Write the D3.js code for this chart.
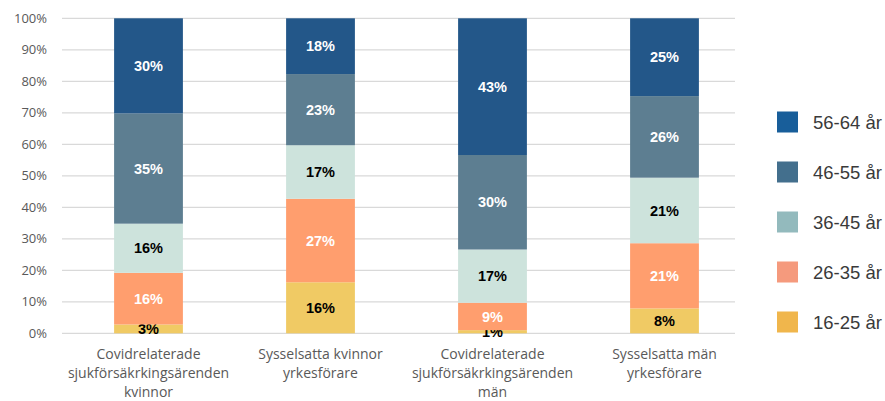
<!DOCTYPE html>
<html lang="sv">
<head>
<meta charset="utf-8">
<title>Åldersfördelning</title>
<script src="https://cdn.jsdelivr.net/npm/d3@7"></script>
<style>
  body { margin: 0; background: #fff; }
  .axis text { font-family: "Open Sans", "Noto Sans", sans-serif; font-size: 13px; fill: #595959; }
  .cat text { font-family: "Open Sans", "Noto Sans", sans-serif; font-size: 14px; fill: #595959; }
  .lbl { font-family: "Liberation Sans", Arial, sans-serif; font-size: 14.5px; font-weight: bold; }
  .legend text { font-family: "Liberation Sans", Arial, sans-serif; font-size: 18.5px; fill: #3a3a3a; }
</style>
</head>
<body>
<script>
// categories (x axis)
var categories = [
  ["Covidrelaterade", "sjukförsäkrkingsärenden", "kvinnor"],
  ["Sysselsatta kvinnor", "yrkesförare"],
  ["Covidrelaterade", "sjukförsäkrkingsärenden", "män"],
  ["Sysselsatta män", "yrkesförare"]
];

// age groups, bottom to top
var groups = ["16-25 år", "26-35 år", "36-45 år", "46-55 år", "56-64 år"];

// share per group (%), one value per category
var age16_25 = [2.8, 16.2, 1.0, 7.9];
var age26_35 = [16.4, 26.5, 8.7, 20.7];
var age36_45 = [15.6, 17.0, 16.9, 20.8];
var age46_55 = [35.0, 22.6, 30.0, 25.9];
var age56_64 = [30.2, 17.7, 43.4, 24.7];

var yTicks = [0, 10, 20, 30, 40, 50, 60, 70, 80, 90, 100];

var barColors = ["#f0ca64", "#ff9e6e", "#cde3dc", "#5d7e91", "#235789"];
var legendColors = ["#f0b64c", "#f59a7d", "#93babd", "#436f8d", "#185e9a"];
var labelColors = ["#000", "#fff", "#000", "#fff", "#fff"];

var w = 885, h = 401;

var svg = d3.select("body").append("svg")
    .attr("width", w)
    .attr("height", h);

// build rows for the stack
var series = [age16_25, age26_35, age36_45, age46_55, age56_64];
var rows = categories.map(function(c, i) {
  var r = { idx: i };
  groups.forEach(function(g, j) { r[g] = series[j][i]; });
  return r;
});

var stack = d3.stack().keys(groups)(rows);

var x = d3.scaleBand()
    .domain(d3.range(categories.length))
    .range([62.5, 750.5])
    .paddingInner(0.6)
    .paddingOuter(0.3);

var y = d3.scaleLinear()
    .domain([0, 100])
    .range([333.3, 18.3]);

// gridlines
svg.append("g")
  .selectAll("line")
  .data(yTicks)
  .enter()
  .append("line")
  .attr("x1", 62)
  .attr("x2", 735)
  .attr("y1", function(d) { return y(d); })
  .attr("y2", function(d) { return y(d); })
  .style("stroke", "#d9d9d9")
  .style("stroke-width", 1.3);

// y axis labels
var yAxis = d3.axisLeft(y)
    .tickValues(yTicks)
    .tickFormat(function(d) { return d + "%"; })
    .tickSize(0)
    .tickPadding(0);

svg.append("g")
  .attr("class", "axis")
  .attr("transform", "translate(47,0)")
  .call(yAxis)
  .call(function(g) { g.select(".domain").remove(); });

// bars
var layer = svg.selectAll(".layer")
  .data(stack)
  .enter()
  .append("g")
  .attr("class", "layer");

layer.selectAll("rect")
  .data(function(d) { return d; })
  .enter()
  .append("rect")
  .attr("x", function(d) { return x(d.data.idx); })
  .attr("width", x.bandwidth())
  .attr("y", function(d) { return y(d[1]); })
  .attr("height", function(d) { return y(d[0]) - y(d[1]); })
  .style("fill", function(d, i, nodes) {
    return barColors[d3.select(nodes[i].parentNode).datum().index];
  });

// value labels
layer.each(function(s) {
  d3.select(this).selectAll("text")
    .data(s)
    .enter()
    .append("text")
    .attr("class", "lbl")
    .attr("x", function(d) { return x(d.data.idx) + x.bandwidth() / 2; })
    .attr("y", function(d) { return (y(d[0]) + y(d[1])) / 2; })
    .attr("dy", "0.36em")
    .attr("text-anchor", "middle")
    .style("fill", labelColors[s.index])
    .text(function(d) { return Math.round(d[1] - d[0]) + "%"; });
});

// category labels
var cat = svg.append("g").attr("class", "cat");
cat.selectAll("text")
  .data(categories)
  .enter()
  .append("text")
  .attr("text-anchor", "middle")
  .attr("x", function(d, i) { return x(i) + x.bandwidth() / 2; })
  .attr("y", 359)
  .each(function(lines) {
    var t = d3.select(this);
    lines.forEach(function(l, k) {
      t.append("tspan")
        .attr("x", t.attr("x"))
        .attr("dy", k === 0 ? 0 : 19)
        .text(l);
    });
  });

// legend, top group first
var legendData = groups.map(function(g, i) { return { name: g, color: legendColors[i] }; }).reverse();

var legend = svg.append("g").attr("class", "legend")
  .selectAll("g")
  .data(legendData)
  .enter()
  .append("g")
  .attr("transform", function(d, i) { return "translate(777," + (122 + i * 50) + ")"; });

legend.append("rect")
  .attr("x", 0)
  .attr("y", -10.5)
  .attr("width", 21)
  .attr("height", 21)
  .style("fill", function(d) { return d.color; });

legend.append("text")
  .attr("x", 36)
  .attr("dy", "0.36em")
  .text(function(d) { return d.name; });
</script>
</body>
</html>
